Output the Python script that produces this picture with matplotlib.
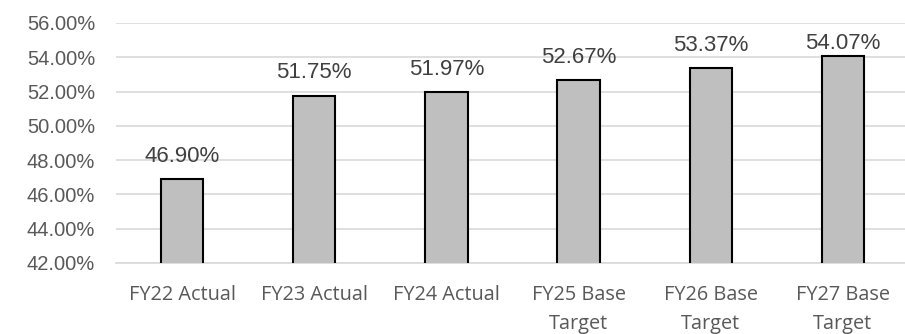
import matplotlib.pyplot as plt
from matplotlib.ticker import FuncFormatter

categories = ["FY22 Actual", "FY23 Actual", "FY24 Actual",
              "FY25 Base\nTarget", "FY26 Base\nTarget", "FY27 Base\nTarget"]
values = [46.90, 51.75, 51.97, 52.67, 53.37, 54.07]
y_ticks = [42, 44, 46, 48, 50, 52, 54, 56]

DPI = 100
fig = plt.figure(figsize=(9.05, 3.34), dpi=DPI)
ax = fig.add_axes([116 / 905, 71 / 334, 793 / 905, 240 / 334])

x = list(range(len(categories)))
ax.bar(x, values, width=0.32, bottom=0, color="#bfbfbf",
       edgecolor="black", linewidth=1.5, zorder=3)

labels = []
for xi, v in zip(x, values):
    ann = ax.annotate(f"{v:.2f}%", xy=(xi, v), xytext=(0, 9), textcoords="offset points",
                      ha="center", va="bottom", fontsize=16, color="#404040",
                      family="Liberation Sans")
    labels.append(ann)

ax.set_ylim(42, 56)
ax.set_xlim(-0.5, len(categories) - 0.5)
ax.set_yticks(y_ticks)
ax.yaxis.set_major_formatter(FuncFormatter(lambda v, _: f"{v:.2f}%"))
ax.set_xticks(x)
ax.set_xticklabels(categories, family="Open Sans", fontsize=14.3, color="#595959",
                   linespacing=1.6)
for lbl in ax.get_yticklabels():
    lbl.set_family("Liberation Sans")
    lbl.set_fontsize(14.5)
    lbl.set_color("#595959")

ax.grid(axis="y", color="#d9d9d9", linewidth=1.2, zorder=0)
ax.tick_params(axis="both", length=0)
ax.tick_params(axis="y", pad=15)
ax.tick_params(axis="x", pad=16)
for side in ["top", "right", "left"]:
    ax.spines[side].set_visible(False)
ax.spines["bottom"].set_color("#d9d9d9")
ax.spines["bottom"].set_linewidth(1.2)

# keep data labels inside the plot area, like the spreadsheet does
fig.canvas.draw()
renderer = fig.canvas.get_renderer()
top_limit = ax.get_window_extent().y1 - 10
for ann in labels:
    bb = ann.get_window_extent(renderer)
    if bb.y1 > top_limit:
        shift_pt = (bb.y1 - top_limit) * 72 / DPI
        ann.xyann = (0, 9 - shift_pt)

fig.savefig("out.png", dpi=DPI, facecolor="white")
